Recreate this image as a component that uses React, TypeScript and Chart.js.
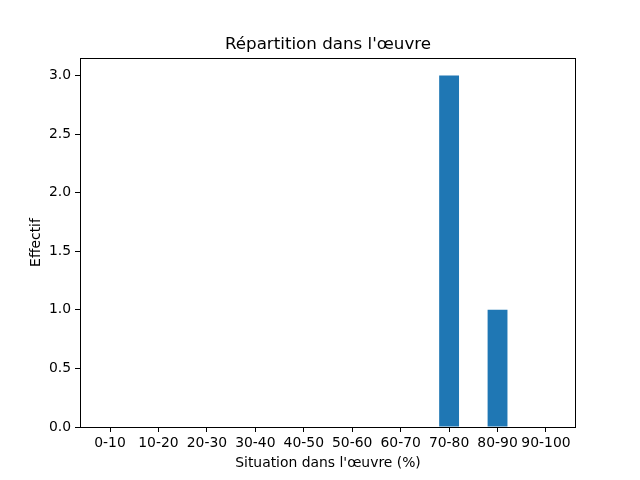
import React, { useEffect, useRef } from "react";
import { Chart, registerables } from "chart.js";

Chart.register(...registerables);

const categories = ["0-10", "10-20", "20-30", "30-40", "40-50", "50-60", "60-70", "70-80", "80-90", "90-100"];
const counts = [0, 0, 0, 0, 0, 0, 0, 3, 1, 0];
const yTicks = [0, 0.5, 1, 1.5, 2, 2.5, 3];
const titleText = "Répartition dans l'œuvre";
const xTitle = "Situation dans l'œuvre (%)";
const yTitle = "Effectif";

const FONT = "'DejaVu Sans', sans-serif";

const framePlugin = {
  id: "frame",
  afterDatasetsDraw(chart: any) {
    const { ctx, chartArea } = chart;
    ctx.save();
    ctx.strokeStyle = "#000";
    ctx.lineWidth = 1;
    ctx.strokeRect(
      Math.round(chartArea.left) + 0.5,
      Math.round(chartArea.top) + 0.5,
      Math.round(chartArea.right - chartArea.left) - 1,
      Math.round(chartArea.bottom - chartArea.top)
    );
    ctx.restore();
  },
};

export default function App() {
  const ref = useRef<HTMLCanvasElement>(null);
  useEffect(() => {
    if (!ref.current) return;
    const chart = new Chart(ref.current, {
      type: "bar",
      data: {
        datasets: [
          {
            data: counts.map((y, i) => ({ x: i, y })),
            backgroundColor: "#1f77b4",
            borderWidth: 0,
            inflateAmount: 0,
            barPercentage: 0.41,
            categoryPercentage: 1,
          },
        ],
      },
      options: {
        responsive: false,
        animation: false,
        layout: { padding: { left: 0, right: 64, top: 0, bottom: 0 } },
        plugins: {
          legend: { display: false },
          tooltip: { enabled: false },
          title: {
            display: true,
            text: titleText,
            fullSize: false,
            color: "#000",
            font: { family: FONT, size: 16.7, weight: "normal", lineHeight: 1.2 },
            padding: { top: 35, bottom: 3 },
          },
        },
        scales: {
          x: {
            type: "linear",
            min: -0.62,
            max: 9.62,
            offset: false,
            afterBuildTicks: (scale: any) => {
              scale.ticks = categories.map((_, i) => ({ value: i }));
            },
            afterFit: (scale: any) => {
              scale.height = 53;
            },
            ticks: {
              autoSkip: false,
              maxRotation: 0,
              color: "#000",
              padding: 3,
              font: { family: FONT, size: 13.9 },
              callback: (v: any) => categories[Math.round(Number(v))] ?? "",
            },
            grid: { display: true, offset: false, drawOnChartArea: false, drawTicks: true, tickLength: 5, color: "#000" },
            border: { display: false },
            title: {
              display: true,
              text: xTitle,
              color: "#000",
              font: { family: FONT, size: 13.9, lineHeight: 1.2 },
              padding: { top: 0, bottom: 8.7 },
            },
          },
          y: {
            type: "linear",
            min: 0,
            max: 3.15,
            afterBuildTicks: (scale: any) => {
              scale.ticks = yTicks.map((v) => ({ value: v }));
            },
            afterFit: (scale: any) => {
              scale.width = 80;
            },
            ticks: {
              color: "#000",
              padding: 4,
              font: { family: FONT, size: 13.9 },
              callback: (v: any) => Number(v).toFixed(1),
            },
            grid: { display: true, drawOnChartArea: false, drawTicks: true, tickLength: 5, color: "#000" },
            border: { display: false },
            title: {
              display: true,
              text: yTitle,
              color: "#000",
              font: { family: FONT, size: 13.9, lineHeight: 1.2 },
              padding: { top: 27.7, bottom: 0 },
            },
          },
        },
      },
      plugins: [framePlugin],
    } as any);
    return () => chart.destroy();
  }, []);
  return (
    <div style={{ position: "absolute", left: 0, top: 0, width: 640, height: 480, background: "#fff" }}>
      <canvas ref={ref} width={640} height={480} style={{ width: 640, height: 480 }} />
    </div>
  );
}
